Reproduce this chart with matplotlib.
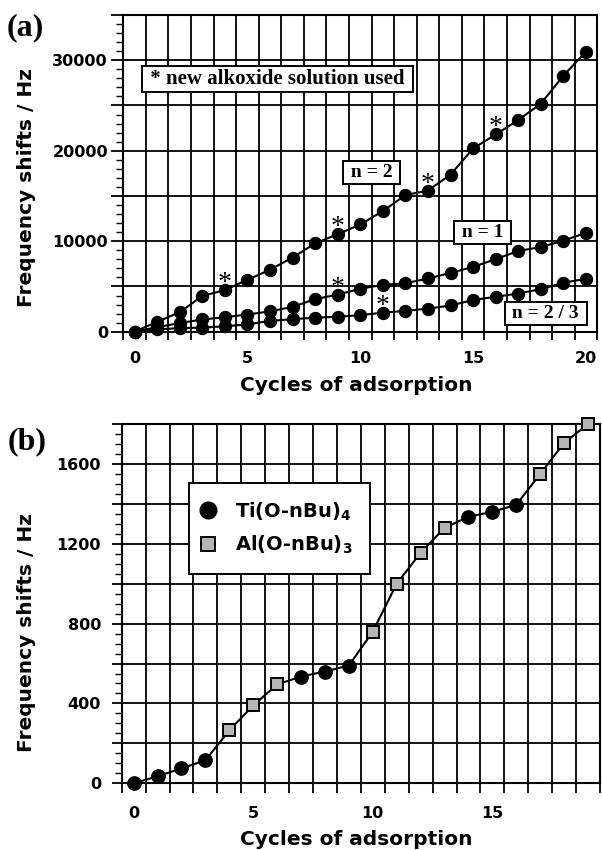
import numpy as np
import matplotlib
matplotlib.use("Agg")
import matplotlib.pyplot as plt
from matplotlib.ticker import MultipleLocator, FixedLocator, FuncFormatter
from matplotlib.lines import Line2D

# ---------------- data ----------------
cycles_a = list(range(21))
shift_n2 = [0, 1100, 2150, 3950, 4600, 5730, 6850, 8200, 9760, 10770, 11850,
            13330, 15100, 15600, 17370, 20250, 21800, 23400, 25200, 28300, 30950]
shift_n1 = [0, 500, 950, 1350, 1600, 1900, 2250, 2740, 3600, 4100, 4750,
            5180, 5350, 5880, 6500, 7160, 8020, 8920, 9360, 10060, 10930]
shift_n23 = [0, 250, 400, 450, 600, 800, 1200, 1380, 1550, 1650, 1830,
             2100, 2300, 2550, 2900, 3500, 3860, 4220, 4700, 5410, 5850]
star_n2 = [4, 9, 13, 16]
star_n1 = [9]
star_n23 = [11]
label_n2 = "n = 2"
label_n1 = "n = 1"
label_n23 = "n = 2 / 3"
note_a = "* new alkoxide solution used"
xticks_a = [0, 5, 10, 15, 20]

cycles_b = list(range(20))
shift_b = [0, 35, 75, 115, 265, 390, 495, 535, 560, 590, 760,
           1000, 1155, 1280, 1335, 1360, 1395, 1550, 1705, 1800]
precursor_b = ["Ti", "Ti", "Ti", "Ti", "Al", "Al", "Al", "Ti", "Ti", "Ti",
               "Al", "Al", "Al", "Al", "Ti", "Ti", "Ti", "Al", "Al", "Al"]
legend_ti = r"Ti(O-nBu)$_\mathbf{4}$"
legend_al = r"Al(O-nBu)$_\mathbf{3}$"
xticks_b = [0, 5, 10, 15]

xlabel = "Cycles of adsorption"
ylabel = "Frequency shifts / Hz"

# ---------------- style ----------------
plt.rcParams["font.family"] = ["DejaVu Sans"]
plt.rcParams["font.weight"] = "bold"
plt.rcParams["axes.linewidth"] = 1.5
SERIF = ["Liberation Serif", "DejaVu Serif"]
GRID_LW = 1.3
SQ_FACE = "#b5b5b5"

W, H = 602, 850
fig = plt.figure(figsize=(W / 100, H / 100), dpi=100)


def px_rect(l, t, r, b):
    return [l / W, 1 - b / H, (r - l) / W, (b - t) / H]


def style_axes(ax, xmaj, ymaj, ymin, ylab_step, xlen, ymajlen, yminlen, xpad, ypad):
    ax.xaxis.set_major_locator(FixedLocator(xmaj))
    lo, hi = ax.get_xlim()
    ax.xaxis.set_minor_locator(FixedLocator(np.arange(np.ceil(lo - 0.5) + 0.5, hi + 0.01, 1.0)))
    ax.yaxis.set_major_locator(MultipleLocator(ymaj))
    ax.yaxis.set_minor_locator(MultipleLocator(ymin))
    ax.yaxis.set_major_formatter(FuncFormatter(
        lambda v, p: f"{int(round(v))}" if round(v) % ylab_step == 0 else ""))
    ax.tick_params(axis="x", which="major", length=0, pad=xpad, labelsize=11.5)
    ax.tick_params(axis="x", which="minor", length=xlen, width=GRID_LW, direction="out")
    ax.tick_params(axis="y", which="major", length=ymajlen, width=GRID_LW,
                   direction="out", pad=ypad, labelsize=11.5)
    ax.tick_params(axis="y", which="minor", length=yminlen, width=1.0, direction="out")
    ax.grid(True, which="minor", axis="x", color="black", lw=GRID_LW)
    ax.grid(True, which="major", axis="y", color="black", lw=GRID_LW)
    ax.set_axisbelow("line")


# ---------------- panel (a) ----------------
ax = fig.add_axes(px_rect(123.3, 15, 597.3, 331.7))
ax.set_xlim(-0.5, 20.5)
ax.set_ylim(0, 35000)
style_axes(ax, xticks_a, 5000, 1000, 10000, 6, 8.4, 4.8, 14.0, 2.7)

for ys in (shift_n2, shift_n1, shift_n23):
    ax.plot(cycles_a, ys, "-", color="black", lw=1.5, zorder=2, clip_on=False)
    ax.plot(cycles_a, ys, "o", color="black", ms=8.6, zorder=3, clip_on=False)

for ys, stars in ((shift_n2, star_n2), (shift_n1, star_n1), (shift_n23, star_n23)):
    for i in stars:
        ax.annotate("*", (cycles_a[i], ys[i]), xytext=(0, 0), textcoords="offset points",
                    ha="center", va="baseline", fontsize=20, fontweight="normal",
                    family=SERIF, zorder=4)

box = dict(boxstyle="square,pad=0.15", fc="white", ec="black", lw=1.4)
ax.text(0.3247, 0.797, " " + note_a + " ", transform=ax.transAxes, ha="center", va="center",
        fontsize=15, fontweight="bold", family=SERIF, bbox=box, zorder=5)
ax.text(0.524, 0.502, " " + label_n2 + " ", transform=ax.transAxes, ha="center", va="center",
        fontsize=14, fontweight="bold", family=SERIF, bbox=box, zorder=5)
ax.text(0.758, 0.314, " " + label_n1 + " ", transform=ax.transAxes, ha="center", va="center",
        fontsize=14, fontweight="bold", family=SERIF, bbox=box, zorder=5)
ax.text(0.891, 0.057, " " + label_n23 + " ", transform=ax.transAxes, ha="center", va="center",
        fontsize=14, fontweight="bold", family=SERIF, bbox=box, zorder=5)

ax.set_xlabel(xlabel, fontsize=14.5, fontweight="bold")
ax.xaxis.label.set_va("baseline")
ax.xaxis.set_label_coords(0.491, -0.187)
ax.set_ylabel(ylabel, fontsize=14.5, fontweight="bold")
ax.yaxis.label.set_va("baseline")
ax.yaxis.set_label_coords(-0.1932, 0.455)

fig.text(6.7 / W, 1 - 13 / H, "(a)", ha="left", va="top", fontsize=23,
         fontweight="bold", family=SERIF)

# ---------------- panel (b) ----------------
bx = fig.add_axes(px_rect(121.7, 424, 600, 783.3))
bx.set_xlim(-0.5, 19.5)
bx.set_ylim(0, 1800)
style_axes(bx, xticks_b, 200, 50, 400, 7, 7.2, 4.8, 16.5, 7.7)

bx.plot(cycles_b, shift_b, "-", color="black", lw=1.5, zorder=2, clip_on=False)
ti_x = [c for c, p in zip(cycles_b, precursor_b) if p == "Ti"]
ti_y = [s for s, p in zip(shift_b, precursor_b) if p == "Ti"]
al_x = [c for c, p in zip(cycles_b, precursor_b) if p == "Al"]
al_y = [s for s, p in zip(shift_b, precursor_b) if p == "Al"]
bx.plot(ti_x, ti_y, "o", color="black", ms=9.6, zorder=3, clip_on=False)
bx.plot(al_x, al_y, "s", mfc=SQ_FACE, mec="black", mew=1.4, ms=9.0, zorder=3, clip_on=False)

handles = [Line2D([], [], marker="o", ls="none", mfc="black", mec="black", ms=12),
           Line2D([], [], marker="s", ls="none", mfc=SQ_FACE, mec="black", mew=1.4, ms=9.6)]
leg = bx.legend(handles, [legend_ti, legend_al], loc="upper left",
                bbox_to_anchor=(0.1413, 0.8366), borderaxespad=0, frameon=True,
                fancybox=False, edgecolor="black", framealpha=1,
                prop=dict(family="DejaVu Sans", weight="bold", size=14),
                borderpad=0.9, handlelength=0.1, handletextpad=1.35, labelspacing=0.6)
leg.get_frame().set_linewidth(1.4)
leg.set_zorder(6)

bx.set_xlabel(xlabel, fontsize=14.5, fontweight="bold")
bx.xaxis.label.set_va("baseline")
bx.xaxis.set_label_coords(0.49, -0.172)
bx.set_ylabel(ylabel, fontsize=14.5, fontweight="bold")
bx.yaxis.label.set_va("baseline")
bx.yaxis.set_label_coords(-0.1882, 0.4197)

fig.text(7.7 / W, 1 - 427 / H, "(b)", ha="left", va="top", fontsize=23,
         fontweight="bold", family=SERIF)

fig.savefig("out.png", dpi=100)
